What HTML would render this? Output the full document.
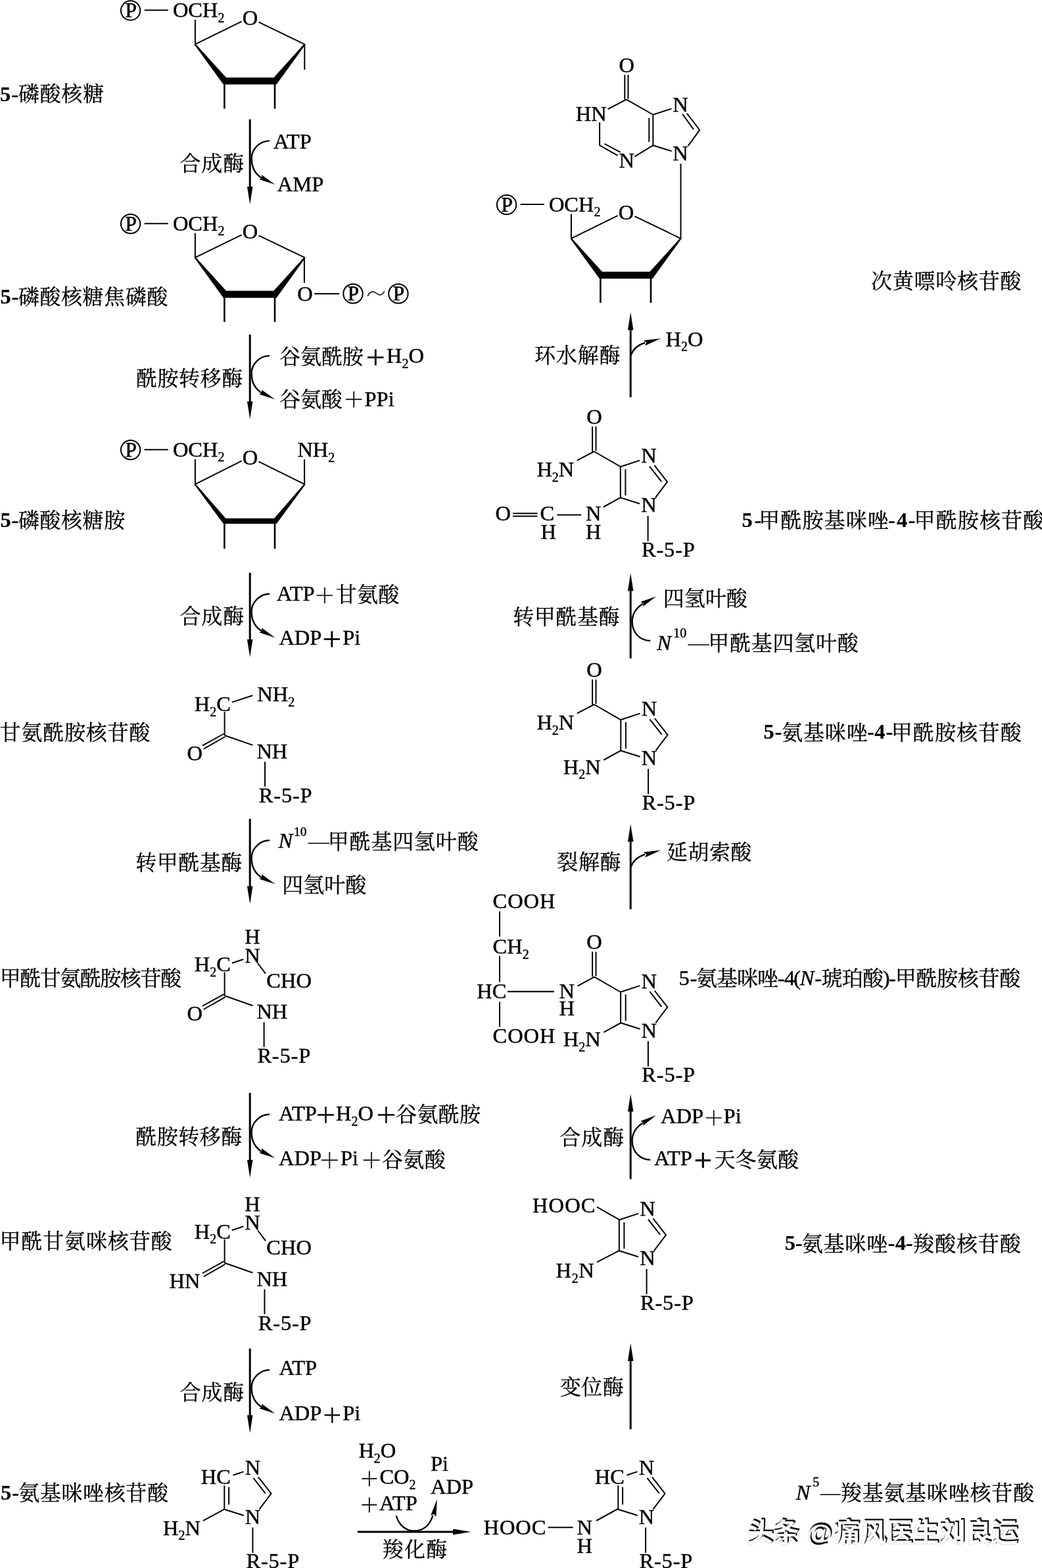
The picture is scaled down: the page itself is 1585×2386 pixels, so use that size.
<!DOCTYPE html>
<html lang="zh"><head><meta charset="utf-8"><title>嘌呤核苷酸从头合成途径</title>
<style>
html,body{margin:0;padding:0;background:#fff}
body{width:1585px;height:2386px;overflow:hidden;font-family:"Liberation Serif",serif}
svg{display:block;will-change:transform}
svg text{font-family:"Liberation Serif",serif;font-size:32.5px;fill:#000;stroke:#000;stroke-width:0.45px}
svg text.cj{font-family:"Liberation Serif","Noto Serif CJK SC",serif;font-size:32px;stroke-width:0.32px}
svg text.wm{font-family:"Liberation Sans","Noto Sans CJK SC",sans-serif;font-size:40px;font-weight:bold}
</style></head><body>
<svg width="1585" height="2386" viewBox="0 0 1585 2386">
<desc>嘌呤核苷酸从头合成途径：5-磷酸核糖 → 5-磷酸核糖焦磷酸 → 5-磷酸核糖胺 → 甘氨酰胺核苷酸 → 甲酰甘氨酰胺核苷酸 → 甲酰甘氨咪核苷酸 → 5-氨基咪唑核苷酸 → N5—羧基氨基咪唑核苷酸 → 5-氨基咪唑-4-羧酸核苷酸 → 5-氨基咪唑-4(N-琥珀酸)-甲酰胺核苷酸 → 5-氨基咪唑-4-甲酰胺核苷酸 → 5-甲酰胺基咪唑-4-甲酰胺核苷酸 → 次黄嘌呤核苷酸。酶：合成酶、酰胺转移酶、转甲酰基酶、羧化酶、变位酶、裂解酶、环水解酶。头条 @痛风医生刘良运</desc>
<g stroke="#000" fill="none">
<circle cx="198.6" cy="16" r="14.7" fill="none" stroke-width="2"/>
<text x="199" y="26.4" text-anchor="middle" style="font-size:31px;stroke-width:0.7px">P</text>
<path d="M219.6 15.6L255.7 15.6" stroke-width="2"/>
<text x="262.9" y="26">OCH</text>
<text x="331.52" y="33.8" style="font-size:20px">2</text>
<text x="368.7" y="38.2">O</text>
<path d="M296.9 67.3L367.6 32.7" stroke-width="2"/>
<path d="M393.5 33.7L463.3 67.3" stroke-width="2"/>
<path d="M296.9 30.2L296.9 67.8" stroke-width="2"/>
<path d="M297.1 66.2L344 118L416.4 118L463.1 66.2L464.4 68L420.6 128.6L339.8 128.6L295.8 68Z" fill="#000" stroke="none"/>
<path d="M341.4 128.1L341.4 165.3" stroke-width="2.6"/>
<path d="M418 128.1L418 165.3" stroke-width="2.6"/>
<path d="M463.3 67.3L463.3 106" stroke-width="2"/>
<text x="-0" y="153.5" style="font-weight:bold;stroke-width:0.2px;">5</text>
<text x="17.21" y="153.5" style="font-weight:bold;stroke-width:0.2px;">-</text>
<text class="cj" x="27.7" y="154.36" letter-spacing="0.82">磷酸核糖</text>
<path d="M380.2 181.6L380.2 286" stroke-width="3"/>
<path d="M375.95 284L384.45 284L380.2 311Z" fill="#000" stroke="none"/>
<path d="M410 214.4C396 214.4 382.6 226 382.6 241.3C382.6 256 388 265 399 271.5" stroke-width="2.4" fill="none"/>
<path d="M418.4 280.8L394.31 273.01L398.8 270.81L397.94 265.89Z" fill="#000" stroke="none"/>
<text class="cj" x="273.21" y="260.16" letter-spacing="1.04">合成酶</text>
<text x="416" y="225.6">ATP</text>
<text x="421.8" y="290.7">AMP</text>
<circle cx="198.6" cy="340.6" r="14.7" fill="none" stroke-width="2"/>
<text x="199" y="351" text-anchor="middle" style="font-size:31px;stroke-width:0.7px">P</text>
<path d="M219.6 340.2L255.7 340.2" stroke-width="2"/>
<text x="262.9" y="350.6">OCH</text>
<text x="331.52" y="358.4" style="font-size:20px">2</text>
<text x="368.7" y="362.8">O</text>
<path d="M296.9 391.9L367.6 357.3" stroke-width="2"/>
<path d="M393.5 358.3L463.3 391.9" stroke-width="2"/>
<path d="M296.9 354.8L296.9 392.4" stroke-width="2"/>
<path d="M297.1 390.8L344 442.6L416.4 442.6L463.1 390.8L464.4 392.6L420.6 453.2L339.8 453.2L295.8 392.6Z" fill="#000" stroke="none"/>
<path d="M341.4 452.7L341.4 489.9" stroke-width="2.6"/>
<path d="M418 452.7L418 489.9" stroke-width="2.6"/>
<text x="0.5" y="462.2" style="font-weight:bold;stroke-width:0.2px;">5</text>
<text x="17.41" y="462.2" style="font-weight:bold;stroke-width:0.2px;">-</text>
<text class="cj" x="27.7" y="463.06" letter-spacing="0.6">磷酸核糖焦磷酸</text>
<path d="M462.9 391.9L462.9 430.5" stroke-width="2"/>
<text x="452.2" y="457.5">O</text>
<path d="M478.2 446.9L516.1 446.9" stroke-width="2"/>
<circle cx="537" cy="446.9" r="14.7" fill="none" stroke-width="2"/>
<text x="537.4" y="457.3" text-anchor="middle" style="font-size:31px;stroke-width:0.7px">P</text>
<path d="M559.2 450.6C563 442.5 568.5 442.8 572.5 446.2C576.5 449.6 581 450.6 584.8 443" stroke-width="1.5" fill="none"/>
<circle cx="605.9" cy="446.9" r="14.7" fill="none" stroke-width="2"/>
<text x="606.3" y="457.3" text-anchor="middle" style="font-size:31px;stroke-width:0.7px">P</text>
<path d="M380.2 509.2L380.2 612.7" stroke-width="3"/>
<path d="M375.95 610.7L384.45 610.7L380.2 637.7Z" fill="#000" stroke="none"/>
<path d="M410 541.4C396 541.4 382.6 553 382.6 568.3C382.6 583 388 592 399 598.5" stroke-width="2.4" fill="none"/>
<path d="M418.4 607.8L394.31 600.01L398.8 597.81L397.94 592.89Z" fill="#000" stroke="none"/>
<text class="cj" x="206.95" y="586.56" letter-spacing="0.56">酰胺转移酶</text>
<text class="cj" x="425.22" y="554.36" letter-spacing="-0.13">谷氨酰胺</text>
<path d="M559.05 543.8H583.55M571.3 531.55V556.05" stroke-width="2.8" fill="none"/>
<text x="588" y="552">H</text>
<text x="611.47" y="559.8" style="font-size:20px">2</text>
<text x="621.47" y="552">O</text>
<text class="cj" x="425.22" y="618.76" letter-spacing="-0.27">谷氨酸</text>
<path d="M525.95 607.7H550.45M538.2 595.45V619.95" stroke-width="1.7" fill="none"/>
<text x="554.5" y="617.8">PPi</text>
<circle cx="198.6" cy="684.6" r="14.7" fill="none" stroke-width="2"/>
<text x="199" y="695" text-anchor="middle" style="font-size:31px;stroke-width:0.7px">P</text>
<path d="M219.6 684.2L255.7 684.2" stroke-width="2"/>
<text x="262.9" y="694.6">OCH</text>
<text x="331.52" y="702.4" style="font-size:20px">2</text>
<text x="368.7" y="706.8">O</text>
<path d="M296.9 736.9L367.6 701.3" stroke-width="2"/>
<path d="M393.5 702.3L463.3 736.9" stroke-width="2"/>
<path d="M296.9 698.8L296.9 737.4" stroke-width="2"/>
<path d="M297.1 735.8L343.32 788.8L417.08 788.8L463.1 735.8L464.4 737.6L420.6 797L339.8 797L295.8 737.6Z" fill="#000" stroke="none"/>
<path d="M341.4 796.5L341.4 834.9" stroke-width="2.6"/>
<path d="M418 796.5L418 834.9" stroke-width="2.6"/>
<path d="M463.1 737.2L463.1 699.1" stroke-width="2"/>
<text x="452.4" y="695.1">NH</text>
<text x="499.34" y="702.9" style="font-size:20px">2</text>
<text x="0.5" y="802.2" style="font-weight:bold;stroke-width:0.2px;">5</text>
<text x="17.41" y="802.2" style="font-weight:bold;stroke-width:0.2px;">-</text>
<text class="cj" x="27.7" y="803.06" letter-spacing="0.61">磷酸核糖胺</text>
<path d="M380.2 871.6L380.2 975.1" stroke-width="3"/>
<path d="M375.95 973.1L384.45 973.1L380.2 1000.1Z" fill="#000" stroke="none"/>
<path d="M410 903.8C396 903.8 382.6 915.4 382.6 930.7C382.6 945.4 388 954.4 399 960.9" stroke-width="2.4" fill="none"/>
<path d="M418.4 970.2L394.31 962.41L398.8 960.21L397.94 955.29Z" fill="#000" stroke="none"/>
<text class="cj" x="273.41" y="949.36" letter-spacing="0.94">合成酶</text>
<text x="420.8" y="913.8">ATP</text>
<path d="M481.8 906H506M493.9 893.9V918.1" stroke-width="1.7" fill="none"/>
<text class="cj" x="510.66" y="915.96" letter-spacing="0.35">甘氨酸</text>
<text x="424.4" y="981.2">ADP</text>
<path d="M492.7 972.7H516.9M504.8 960.6V984.8" stroke-width="2.8" fill="none"/>
<text x="521.2" y="981.2">Pi</text>
<text x="295.8" y="1081.7">H</text>
<text x="319.27" y="1089.5" style="font-size:20px">2</text>
<text x="329.27" y="1081.7">C</text>
<path d="M341.6 1083.3L341.6 1119" stroke-width="2"/>
<path d="M352.9 1068.6L384.4 1058.2" stroke-width="2"/>
<text x="391.2" y="1067">NH</text>
<text x="438.14" y="1074.8" style="font-size:20px">2</text>
<path d="M340.5 1116.5L307.8 1134.7" stroke-width="2"/>
<path d="M342.4 1121L309.8 1139.7" stroke-width="2"/>
<text x="284.6" y="1157.1">O</text>
<path d="M341.6 1119L384.4 1133.9" stroke-width="2"/>
<text x="390.4" y="1153.8">NH</text>
<path d="M403.04 1159.2L403.04 1196.9" stroke-width="2"/>
<text x="393.8" y="1220.9" letter-spacing="0.8">R-5-P</text>
<text class="cj" x="-0.44" y="1126.16" letter-spacing="0.79">甘氨酰胺核苷酸</text>
<path d="M380.2 1246L380.2 1350.5" stroke-width="3"/>
<path d="M375.95 1348.5L384.45 1348.5L380.2 1375.5Z" fill="#000" stroke="none"/>
<path d="M410 1278.8C396 1278.8 382.6 1290.4 382.6 1305.7C382.6 1320.4 388 1329.4 399 1335.9" stroke-width="2.4" fill="none"/>
<path d="M418.4 1345.2L394.31 1337.41L398.8 1335.21L397.94 1330.29Z" fill="#000" stroke="none"/>
<text class="cj" x="206.13" y="1324.46" letter-spacing="0.52">转甲酰基酶</text>
<text x="423.4" y="1290.1" font-style="italic">N</text>
<text x="447" y="1272.2" style="font-size:19.5px">10</text>
<path d="M468.6 1283.2L501.3 1283.2" stroke-width="1.6"/>
<text class="cj" x="498.78" y="1292.16" letter-spacing="0.81">甲酰基四氢叶酸</text>
<text class="cj" x="429.14" y="1358.36" letter-spacing="0.01">四氢叶酸</text>
<text x="295.8" y="1478">H</text>
<text x="319.27" y="1485.8" style="font-size:20px">2</text>
<text x="329.27" y="1478">C</text>
<path d="M341.6 1479.6L341.6 1515.3" stroke-width="2"/>
<text x="372.2" y="1436.2">H</text>
<text x="372.2" y="1464.7">N</text>
<path d="M352.9 1465.5L370.3 1459.7" stroke-width="2"/>
<path d="M391.9 1465.5L404 1481.6" stroke-width="2"/>
<text x="405.3" y="1502.8">CHO</text>
<path d="M340.5 1512.8L307.8 1531" stroke-width="2"/>
<path d="M342.4 1517.3L309.8 1536" stroke-width="2"/>
<text x="284.6" y="1553.4">O</text>
<path d="M341.6 1515.3L384.4 1530.2" stroke-width="2"/>
<text x="390.4" y="1550.1">NH</text>
<path d="M401.6 1555.5L401.6 1593.2" stroke-width="2"/>
<text x="391.4" y="1617.2" letter-spacing="0.8">R-5-P</text>
<text class="cj" x="-0.33" y="1500.46" letter-spacing="-1.47">甲酰甘氨酰胺核苷酸</text>
<path d="M380.2 1663.1L380.2 1766.9" stroke-width="3"/>
<path d="M375.95 1764.9L384.45 1764.9L380.2 1791.9Z" fill="#000" stroke="none"/>
<path d="M410 1695.8C396 1695.8 382.6 1707.4 382.6 1722.7C382.6 1737.4 388 1746.4 399 1752.9" stroke-width="2.4" fill="none"/>
<path d="M418.4 1762.2L394.31 1754.41L398.8 1752.21L397.94 1747.29Z" fill="#000" stroke="none"/>
<text class="cj" x="206.35" y="1741.06" letter-spacing="0.46">酰胺转移酶</text>
<text x="424.1" y="1705.1">ATP</text>
<path d="M483 1696.5H508M495.5 1684V1709" stroke-width="2.4" fill="none"/>
<text x="511" y="1705.1">H</text>
<text x="534.47" y="1712.9" style="font-size:20px">2</text>
<text x="544.47" y="1705.1">O</text>
<path d="M574.9 1696.5H599.9M587.4 1684V1709" stroke-width="2.4" fill="none"/>
<text class="cj" x="602.32" y="1707.16" letter-spacing="0.27">谷氨酰胺</text>
<text x="424.1" y="1773.3">ADP</text>
<path d="M488.8 1765.4H513.8M501.3 1752.9V1777.9" stroke-width="1.7" fill="none"/>
<text x="518" y="1773.3">Pi</text>
<path d="M552.5 1765.4H577.5M565 1752.9V1777.9" stroke-width="1.7" fill="none"/>
<text class="cj" x="580.92" y="1776.36" letter-spacing="0.37">谷氨酸</text>
<text x="295.8" y="1884.5">H</text>
<text x="319.27" y="1892.3" style="font-size:20px">2</text>
<text x="329.27" y="1884.5">C</text>
<path d="M341.6 1886.1L341.6 1921.8" stroke-width="2"/>
<text x="372.2" y="1842.7">H</text>
<text x="372.2" y="1871.2">N</text>
<path d="M352.9 1872L370.3 1866.2" stroke-width="2"/>
<path d="M391.9 1872L404 1888.1" stroke-width="2"/>
<text x="405.3" y="1909.3">CHO</text>
<path d="M340.5 1919.3L307.8 1937.5" stroke-width="2"/>
<path d="M342.4 1923.8L309.8 1942.5" stroke-width="2"/>
<text x="257.6" y="1959.5">HN</text>
<path d="M341.6 1921.8L384.4 1936.7" stroke-width="2"/>
<text x="390.4" y="1956.6">NH</text>
<path d="M402.44 1962L402.44 1999.7" stroke-width="2"/>
<text x="392.8" y="2023.7" letter-spacing="0.8">R-5-P</text>
<text class="cj" x="-0.52" y="1899.96" letter-spacing="0.87">甲酰甘氨咪核苷酸</text>
<path d="M380.2 2052.1L380.2 2155.6" stroke-width="3"/>
<path d="M375.95 2153.6L384.45 2153.6L380.2 2180.6Z" fill="#000" stroke="none"/>
<path d="M410 2084.6C396 2084.6 382.6 2096.2 382.6 2111.5C382.6 2126.2 388 2135.2 399 2141.7" stroke-width="2.4" fill="none"/>
<path d="M418.4 2151L394.31 2143.21L398.8 2141.01L397.94 2136.09Z" fill="#000" stroke="none"/>
<text class="cj" x="273.41" y="2129.66" letter-spacing="0.94">合成酶</text>
<text x="424.4" y="2092.1">ATP</text>
<text x="424.4" y="2161.2">ADP</text>
<path d="M493.55 2153.4H517.05M505.3 2141.65V2165.15" stroke-width="2.3" fill="none"/>
<text x="521.2" y="2161.2">Pi</text>
<text x="305.7" y="2258.3">HC</text>
<path d="M341.3 2260.5L341.3 2297.3" stroke-width="2"/>
<path d="M348.1 2263L348.1 2289.5" stroke-width="2"/>
<path d="M354.4 2244.7L370.6 2239.4" stroke-width="2"/>
<text x="372.8" y="2243.8">N</text>
<text x="372.8" y="2318.8">N</text>
<path d="M341.3 2296.7L370.6 2306" stroke-width="2"/>
<path d="M392.9 2247.7L412.8 2273.1" stroke-width="2"/>
<path d="M385.5 2249.1L403.7 2272.3" stroke-width="2"/>
<path d="M412.8 2272.3L394.5 2296.7" stroke-width="2"/>
<path d="M384.4 2324.5L384.4 2362.9" stroke-width="2"/>
<text x="374.41" y="2386.1" letter-spacing="0.8">R-5-P</text>
<path d="M341.3 2296.7L308.8 2314.2" stroke-width="2"/>
<text x="248" y="2335.6">H</text>
<text x="271.47" y="2343.4" style="font-size:20px">2</text>
<text x="281.47" y="2335.6">N</text>
<text x="0.9" y="2282.2" style="font-weight:bold;stroke-width:0.2px;">5</text>
<text x="18.21" y="2282.2" style="font-weight:bold;stroke-width:0.2px;">-</text>
<text class="cj" x="28.13" y="2283.16" letter-spacing="0.64">氨基咪唑核苷酸</text>
<path d="M543.9 2331L692 2331" stroke-width="3"/>
<path d="M689.1 2326.4L716.4 2331L689.1 2335.6Z" fill="#000" stroke="none"/>
<path d="M602.8 2306.5C606 2318 615 2329.4 630 2329.4C645 2329.4 654 2320 658.5 2306" stroke-width="2.4" fill="none"/>
<path d="M664.7 2281.5L663.4 2307.81L659.94 2303.88L655.19 2306.06Z" fill="#000" stroke="none"/>
<text x="545.4" y="2218.1">H</text>
<text x="568.87" y="2225.9" style="font-size:20px">2</text>
<text x="578.87" y="2218.1">O</text>
<path d="M550.3 2250.1H573.3M561.8 2238.6V2261.6" stroke-width="1.8" fill="none"/>
<text x="577.4" y="2258.1">CO</text>
<text x="622.55" y="2265.9" style="font-size:20px">2</text>
<path d="M550.3 2289.9H573.3M561.8 2278.4V2301.4" stroke-width="1.8" fill="none"/>
<text x="577" y="2297.8">ATP</text>
<text x="655" y="2237.7">Pi</text>
<text x="655" y="2272.8">ADP</text>
<text class="cj" x="581.69" y="2369.36" letter-spacing="1.3">羧化酶</text>
<text x="941.6" y="109.8">O</text>
<path d="M950.3 113.9L950.3 151.3" stroke-width="2"/>
<path d="M955.5 113.9L955.5 150.5" stroke-width="2"/>
<path d="M952.8 151.3L924.6 166.2" stroke-width="2"/>
<text x="875.8" y="183.6">HN</text>
<path d="M912.1 186.1L912.1 221.8" stroke-width="2"/>
<path d="M912.1 221.2L939.5 236.7" stroke-width="2"/>
<path d="M919.6 218.8L943.6 231.7" stroke-width="2"/>
<text x="941.6" y="254.9">N</text>
<path d="M965.2 238.3L993.4 221.2" stroke-width="2"/>
<path d="M993.4 174L993.4 221.8" stroke-width="2"/>
<path d="M987.3 179.5L987.3 215.9" stroke-width="2"/>
<path d="M993.4 174.5L952.8 151.3" stroke-width="2"/>
<path d="M993.4 174.5L1021.6 165.4" stroke-width="2"/>
<text x="1023.3" y="169.5">N</text>
<path d="M1044.8 172.5L1064.4 198" stroke-width="2"/>
<path d="M1038.2 173.6L1055 196.9" stroke-width="2"/>
<path d="M1064.4 197.6L1046.5 222.2" stroke-width="2"/>
<text x="1023.3" y="244.1">N</text>
<path d="M993.4 221.2L1021.6 230" stroke-width="2"/>
<path d="M1035.5 249.1L1035.5 363.3" stroke-width="2"/>
<circle cx="770.6" cy="311.5" r="14.7" fill="none" stroke-width="2"/>
<text x="771" y="321.9" text-anchor="middle" style="font-size:31px;stroke-width:0.7px">P</text>
<path d="M791.6 311.1L827.7 311.1" stroke-width="2"/>
<text x="834.9" y="321.5">OCH</text>
<text x="903.52" y="329.3" style="font-size:20px">2</text>
<text x="940.7" y="333.7">O</text>
<path d="M868.9 362.8L939.6 328.2" stroke-width="2"/>
<path d="M965.5 329.2L1035.3 362.8" stroke-width="2"/>
<path d="M868.9 325.7L868.9 363.3" stroke-width="2"/>
<path d="M869.1 361.7L916 413.5L988.4 413.5L1035.1 361.7L1036.4 363.5L992.6 424.1L911.8 424.1L867.8 363.5Z" fill="#000" stroke="none"/>
<path d="M913.4 423.6L913.4 460.8" stroke-width="2.6"/>
<path d="M990 423.6L990 460.8" stroke-width="2.6"/>
<text class="cj" x="1324.99" y="439.16" letter-spacing="0.73">次黄嘌呤核苷酸</text>
<path d="M959.2 604.4L959.2 500.3" stroke-width="3"/>
<path d="M954.95 502.3L963.45 502.3L959.2 475.3Z" fill="#000" stroke="none"/>
<path d="M959.7 541C962 533 968 526 981 521.5" stroke-width="2.4" fill="none"/>
<path d="M1005.1 515.1L981.17 526.1L983.05 521.21L978.92 518Z" fill="#000" stroke="none"/>
<text class="cj" x="813.05" y="551.76" letter-spacing="0.81">环水解酶</text>
<text x="1012.6" y="526.6">H</text>
<text x="1036.07" y="534.4" style="font-size:20px">2</text>
<text x="1046.07" y="526.6">O</text>
<path d="M943.8 709.6L943.8 757.8" stroke-width="2"/>
<path d="M951.4 714L951.4 754" stroke-width="2"/>
<path d="M943.8 710.2L973.1 700.6" stroke-width="2"/>
<text x="975.3" y="704.3">N</text>
<text x="975.3" y="779.3">N</text>
<path d="M943.8 757.2L973.1 766.5" stroke-width="2"/>
<path d="M995.4 708.2L1015.3 733.6" stroke-width="2"/>
<path d="M988 709.6L1006.2 732.8" stroke-width="2"/>
<path d="M1015.3 732.8L997 757.2" stroke-width="2"/>
<path d="M985.6 785L985.6 823.4" stroke-width="2"/>
<text x="976" y="846.6" letter-spacing="0.8">R-5-P</text>
<text x="892.2" y="644.7">O</text>
<path d="M901.1 649L901.1 687" stroke-width="2"/>
<path d="M906.5 649L906.5 686" stroke-width="2"/>
<path d="M903.8 687L943.8 710.2" stroke-width="2"/>
<path d="M903.8 687L877.7 700.6" stroke-width="2"/>
<text x="816.4" y="724.9">H</text>
<text x="839.87" y="732.7" style="font-size:20px">2</text>
<text x="849.87" y="724.9">N</text>
<path d="M943.8 757.2L917.8 771.5" stroke-width="2"/>
<text x="891" y="792.1">N</text>
<text x="891" y="820.3">H</text>
<path d="M847.3 783.5L884.2 783.5" stroke-width="2"/>
<text x="821.6" y="792.1">C</text>
<text x="822.4" y="820.3">H</text>
<path d="M780.1 781.3L817.6 781.3" stroke-width="2"/>
<path d="M780.1 785.6L817.6 785.6" stroke-width="2"/>
<text x="753.4" y="792.1">O</text>
<text x="1128.4" y="801.6" style="font-weight:bold;stroke-width:0.2px;">5</text>
<text x="1147.61" y="801.6" style="font-weight:bold;stroke-width:0.2px;">-</text>
<text class="cj" x="1154.28" y="802.96" letter-spacing="1.09">甲酰胺基咪唑</text>
<text x="1351.11" y="801.6" style="font-weight:bold;stroke-width:0.2px;">-</text>
<text x="1364.06" y="801.6" style="font-weight:bold;stroke-width:0.2px;">4</text>
<text x="1381.41" y="801.6" style="font-weight:bold;stroke-width:0.2px;">-</text>
<text class="cj" x="1390.58" y="802.96" letter-spacing="1.1">甲酰胺核苷酸</text>
<path d="M959.2 1001.9L959.2 897.3" stroke-width="3"/>
<path d="M954.95 899.3L963.45 899.3L959.2 872.3Z" fill="#000" stroke="none"/>
<path d="M989.2 975C975 975 961.6 964 961.6 946C961.6 934 968 925 978 918.5" stroke-width="2.4" fill="none"/>
<path d="M998 907.4L978.07 923.02L978.76 918.07L974.2 916.02Z" fill="#000" stroke="none"/>
<text class="cj" x="780.13" y="949.56" letter-spacing="0.61">转甲酰基酶</text>
<text class="cj" x="1008.64" y="922.16" letter-spacing="0.04">四氢叶酸</text>
<text x="999.24" y="988.6" style="font-style:italic;">N</text>
<text x="1024.24" y="969.7" style="font-size:20px;">10</text>
<path d="M1046.3 981.3L1079 981.3" stroke-width="1.6"/>
<text class="cj" x="1077.18" y="990.06" letter-spacing="0.75">甲酰基四氢叶酸</text>
<path d="M944.3 1094.6L944.3 1142.8" stroke-width="2"/>
<path d="M951.9 1099L951.9 1139" stroke-width="2"/>
<path d="M944.3 1095.2L973.6 1085.6" stroke-width="2"/>
<text x="975.8" y="1089.3">N</text>
<text x="975.8" y="1164.3">N</text>
<path d="M944.3 1142.2L973.6 1151.5" stroke-width="2"/>
<path d="M995.9 1093.2L1015.8 1118.6" stroke-width="2"/>
<path d="M988.5 1094.6L1006.7 1117.8" stroke-width="2"/>
<path d="M1015.8 1117.8L997.5 1142.2" stroke-width="2"/>
<path d="M986.1 1170L986.1 1208.4" stroke-width="2"/>
<text x="976.5" y="1231.6" letter-spacing="0.8">R-5-P</text>
<text x="892.2" y="1029.7">O</text>
<path d="M901.1 1034L901.1 1072" stroke-width="2"/>
<path d="M906.5 1034L906.5 1071" stroke-width="2"/>
<path d="M903.8 1072L943.8 1095.2" stroke-width="2"/>
<path d="M903.8 1072L877.7 1085.6" stroke-width="2"/>
<text x="816.4" y="1109.9">H</text>
<text x="839.87" y="1117.7" style="font-size:20px">2</text>
<text x="849.87" y="1109.9">N</text>
<path d="M944.3 1142.2L918.3 1156.5" stroke-width="2"/>
<text x="856.7" y="1177.5">H</text>
<text x="880.17" y="1185.3" style="font-size:20px">2</text>
<text x="890.17" y="1177.5">N</text>
<text x="1161.4" y="1124.3" style="font-weight:bold;stroke-width:0.2px;">5</text>
<text x="1178.51" y="1124.3" style="font-weight:bold;stroke-width:0.2px;">-</text>
<text class="cj" x="1189.03" y="1125.66" letter-spacing="0.9">氨基咪唑</text>
<text x="1319.01" y="1124.3" style="font-weight:bold;stroke-width:0.2px;">-</text>
<text x="1330.26" y="1124.3" style="font-weight:bold;stroke-width:0.2px;">4</text>
<text x="1347.41" y="1124.3" style="font-weight:bold;stroke-width:0.2px;">-</text>
<text class="cj" x="1355.68" y="1125.66" letter-spacing="1.2">甲酰胺核苷酸</text>
<path d="M959.2 1383.5L959.2 1278.8" stroke-width="3"/>
<path d="M954.95 1280.8L963.45 1280.8L959.2 1253.8Z" fill="#000" stroke="none"/>
<path d="M959.7 1319.7C962 1311.7 968 1304.7 981 1300.2" stroke-width="2.4" fill="none"/>
<path d="M1005.1 1293.8L981.17 1304.8L983.05 1299.91L978.92 1296.7Z" fill="#000" stroke="none"/>
<text class="cj" x="847.32" y="1323.16" letter-spacing="0.63">裂解酶</text>
<text class="cj" x="1014.08" y="1308.36" letter-spacing="0.4">延胡索酸</text>
<path d="M944.1 1508.9L944.1 1557.1" stroke-width="2"/>
<path d="M951.7 1513.3L951.7 1553.3" stroke-width="2"/>
<path d="M944.1 1509.5L973.4 1499.9" stroke-width="2"/>
<text x="975.6" y="1503.6">N</text>
<text x="975.6" y="1578.6">N</text>
<path d="M944.1 1556.5L973.4 1565.8" stroke-width="2"/>
<path d="M995.7 1507.5L1015.6 1532.9" stroke-width="2"/>
<path d="M988.3 1508.9L1006.5 1532.1" stroke-width="2"/>
<path d="M1015.6 1532.1L997.3 1556.5" stroke-width="2"/>
<path d="M985.9 1584.3L985.9 1622.7" stroke-width="2"/>
<text x="976.3" y="1645.9" letter-spacing="0.8">R-5-P</text>
<text x="892.2" y="1444">O</text>
<path d="M901.1 1448.3L901.1 1486.3" stroke-width="2"/>
<path d="M906.5 1448.3L906.5 1485.3" stroke-width="2"/>
<path d="M903.8 1486.3L943.8 1509.5" stroke-width="2"/>
<path d="M944.3 1556.5L918.3 1570.8" stroke-width="2"/>
<text x="856.7" y="1591.8">H</text>
<text x="880.17" y="1599.6" style="font-size:20px">2</text>
<text x="890.17" y="1591.8">N</text>
<path d="M904 1486.6L878.7 1500.4" stroke-width="2"/>
<text x="850.6" y="1519.4">N</text>
<text x="850.6" y="1545.1">H</text>
<path d="M772 1508.9L842.7 1508.9" stroke-width="2.4"/>
<text x="725.2" y="1519.4">HC</text>
<text x="749.6" y="1382.1" letter-spacing="0.9">COOH</text>
<text x="749.6" y="1451">CH</text>
<text x="794.75" y="1458.8" style="font-size:20px">2</text>
<text x="749.6" y="1586.5" letter-spacing="0.9">COOH</text>
<path d="M760 1386.7L760 1425.3" stroke-width="2"/>
<path d="M760 1454.5L760 1494.2" stroke-width="2"/>
<path d="M760 1524.5L760 1562.4" stroke-width="2"/>
<text x="1032.51" y="1498.8">5</text>
<text x="1049.39" y="1498.8">-</text>
<text class="cj" x="1058.97" y="1500.16" letter-spacing="-0.97">氨基咪唑</text>
<text x="1182.79" y="1498.8">-</text>
<text x="1193.07" y="1498.8">4</text>
<text x="1207.17" y="1498.8">(</text>
<text x="1216.64" y="1498.8" style="font-style:italic;">N</text>
<text x="1239.29" y="1498.8">-</text>
<text class="cj" x="1249.6" y="1500.16" letter-spacing="-0.78">琥珀酸</text>
<text x="1342.75" y="1498.8">)</text>
<text x="1352.09" y="1498.8">-</text>
<text class="cj" x="1361.68" y="1500.16" letter-spacing="-0.28">甲酰胺核苷酸</text>
<path d="M959.2 1794.3L959.2 1689.5" stroke-width="3"/>
<path d="M954.95 1691.5L963.45 1691.5L959.2 1664.5Z" fill="#000" stroke="none"/>
<path d="M989.2 1764.9C975 1764.9 961.6 1753.9 961.6 1735.9C961.6 1723.9 968 1714.9 978 1708.4" stroke-width="2.4" fill="none"/>
<path d="M998 1697.3L978.07 1712.92L978.76 1707.97L974.2 1705.92Z" fill="#000" stroke="none"/>
<text class="cj" x="851.31" y="1741.96" letter-spacing="0.94">合成酶</text>
<text x="1005" y="1708.5">ADP</text>
<path d="M1073.9 1701H1097.5M1085.7 1689.2V1712.8" stroke-width="1.7" fill="none"/>
<text x="1100.6" y="1708.5">Pi</text>
<text x="995" y="1773.1">ATP</text>
<path d="M1057.7 1765.7H1080.9M1069.3 1754.1V1777.3" stroke-width="3" fill="none"/>
<text class="cj" x="1086.38" y="1776.16" letter-spacing="0.23">天冬氨酸</text>
<path d="M941.8 1855.6L941.8 1903.8" stroke-width="2"/>
<path d="M949.4 1860L949.4 1900" stroke-width="2"/>
<path d="M941.8 1856.2L971.1 1846.6" stroke-width="2"/>
<text x="973.3" y="1850.3">N</text>
<text x="973.3" y="1925.3">N</text>
<path d="M941.8 1903.2L971.1 1912.5" stroke-width="2"/>
<path d="M993.4 1854.2L1013.3 1879.6" stroke-width="2"/>
<path d="M986 1855.6L1004.2 1878.8" stroke-width="2"/>
<path d="M1013.3 1878.8L995 1903.2" stroke-width="2"/>
<path d="M983.6 1931L983.6 1969.4" stroke-width="2"/>
<text x="974" y="1992.6" letter-spacing="0.8">R-5-P</text>
<path d="M941.8 1903.2L907.9 1920.7" stroke-width="2"/>
<text x="845.6" y="1943.8" letter-spacing="0.6">H</text>
<text x="869.67" y="1951.6" style="font-size:20px" letter-spacing="0.6">2</text>
<text x="880.27" y="1943.8" letter-spacing="0.6">N</text>
<text x="810" y="1844.6" letter-spacing="1.1">HOOC</text>
<path d="M907.9 1836.6L941.8 1855.8" stroke-width="2"/>
<text x="1193.7" y="1902.2" style="font-weight:bold;stroke-width:0.2px;">5</text>
<text x="1209.81" y="1902.2" style="font-weight:bold;stroke-width:0.2px;">-</text>
<text class="cj" x="1219.83" y="1903.56" letter-spacing="0.77">氨基咪唑</text>
<text x="1350.51" y="1902.2" style="font-weight:bold;stroke-width:0.2px;">-</text>
<text x="1361.66" y="1902.2" style="font-weight:bold;stroke-width:0.2px;">4</text>
<text x="1377.71" y="1902.2" style="font-weight:bold;stroke-width:0.2px;">-</text>
<text class="cj" x="1389.09" y="1903.56" letter-spacing="0.9">羧酸核苷酸</text>
<path d="M959.2 2174.8L959.2 2069" stroke-width="3"/>
<path d="M954.95 2071L963.45 2071L959.2 2044Z" fill="#000" stroke="none"/>
<text class="cj" x="851.94" y="2122.16" letter-spacing="0.38">变位酶</text>
<text x="904.7" y="2258.3">HC</text>
<path d="M940.3 2260.5L940.3 2297.3" stroke-width="2"/>
<path d="M947.1 2263L947.1 2289.5" stroke-width="2"/>
<path d="M953.4 2244.7L969.6 2239.4" stroke-width="2"/>
<text x="971.8" y="2243.8">N</text>
<text x="971.8" y="2318.8">N</text>
<path d="M940.3 2296.7L969.6 2306" stroke-width="2"/>
<path d="M991.9 2247.7L1011.8 2273.1" stroke-width="2"/>
<path d="M984.5 2249.1L1002.7 2272.3" stroke-width="2"/>
<path d="M1011.8 2272.3L993.5 2296.7" stroke-width="2"/>
<path d="M982.1 2324.5L982.1 2362.9" stroke-width="2"/>
<text x="972.5" y="2386.1" letter-spacing="0.8">R-5-P</text>
<path d="M939.9 2296L907.1 2314" stroke-width="2"/>
<text x="877.6" y="2335.1">N</text>
<text x="877.6" y="2362.6">H</text>
<path d="M833.6 2324.3L871.5 2324.3" stroke-width="2"/>
<text x="735.6" y="2335.1" letter-spacing="0.9">HOOC</text>
<text x="1210.74" y="2281.7" style="font-style:italic;">N</text>
<text x="1236.24" y="2261.5" style="font-size:20px;">5</text>
<path d="M1247.5 2274.3L1278.7 2274.3" stroke-width="1.6"/>
<text class="cj" x="1278.69" y="2282.76" letter-spacing="0.79">羧基氨基咪唑核苷酸</text>
<text class="wm" x="1136.08" y="2346.9" letter-spacing="-0.96" style="fill:#dcdcdc;stroke:none">头条</text>
<text x="1226.4" y="2348.1" style="font-family:'Liberation Sans',sans-serif;font-size:40px;font-weight:bold;fill:#dcdcdc;stroke:none">@</text>
<text class="wm" x="1267.62" y="2346.9" letter-spacing="0.07" style="fill:#dcdcdc;stroke:none">痛风医生刘良运</text>
<text class="wm" x="1138.28" y="2343.8" letter-spacing="-0.96" style="fill:#111;stroke:#111;stroke-width:0.96px">头条</text>
<text x="1228.6" y="2345" style="font-family:'Liberation Sans',sans-serif;font-size:40px;font-weight:bold;fill:#111;stroke:#111;stroke-width:0.9px">@</text>
<text class="wm" x="1269.82" y="2343.8" letter-spacing="0.07" style="fill:#111;stroke:#111;stroke-width:0.96px">痛风医生刘良运</text>
<text class="wm" x="1136.58" y="2346.3" letter-spacing="-0.96" style="fill:#fff;stroke:none">头条</text>
<text x="1226.9" y="2347.5" style="font-family:'Liberation Sans',sans-serif;font-size:40px;font-weight:bold;fill:#fff;stroke:none">@</text>
<text class="wm" x="1268.12" y="2346.3" letter-spacing="0.07" style="fill:#fff;stroke:none">痛风医生刘良运</text>
</g>
</svg>
</body></html>
